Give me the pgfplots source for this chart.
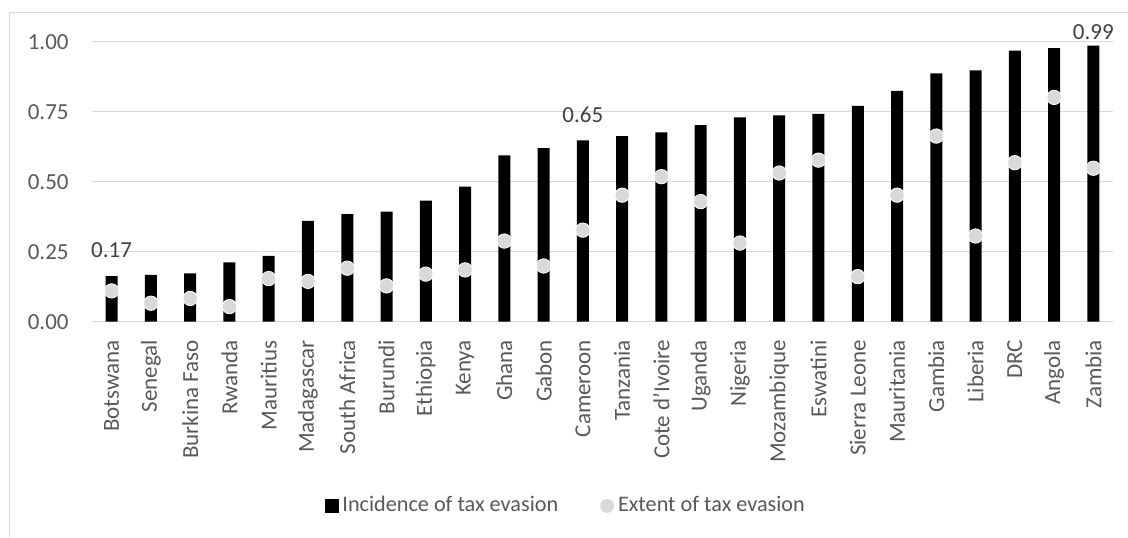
\documentclass[border=0pt]{standalone}
\usepackage{pgfplots}
\pgfplotsset{compat=1.18}
\usepackage{fontspec}
\setmainfont{Carlito}
\definecolor{gridgray}{HTML}{D9D9D9}
\definecolor{textgray}{HTML}{595959}
\definecolor{labgray}{HTML}{404040}
\definecolor{dotgray}{HTML}{D9D9D9}
\begin{document}
\fontsize{11.1pt}{13pt}\selectfont
\begin{tikzpicture}
\useasboundingbox (0,0) rectangle (564pt,268.5pt);
\draw[gridgray, line width=0.6pt] (4.75pt,0) -- (4.75pt,262.35pt) -- (570pt,262.35pt);
\begin{axis}[
  at={(46pt,107.65pt)}, anchor=south west,
  scale only axis, width=510.5pt, height=140pt,
  xmin=-0.5, xmax=25.5, ymin=0, ymax=1,
  clip=false,
  axis line style={draw=none},
  major tick length=0pt,
  ytick={0,0.25,0.5,0.75,1},
  ymajorgrids, grid style={gridgray, line width=0.65pt},
  tick label style={font=\fontsize{11.5pt}{13pt}\selectfont},
  yticklabel style={/pgf/number format/.cd, fixed, fixed zerofill, precision=2, assume math mode=true, /tikz/.cd, text=textgray, inner sep=0pt, xshift=-11.5pt},
  xtick={0,...,25},
  xticklabels={Botswana,Senegal,Burkina Faso,Rwanda,Mauritius,Madagascar,South Africa,Burundi,Ethiopia,Kenya,Ghana,Gabon,Cameroon,Tanzania,Cote d’Ivoire,Uganda,Nigeria,Mozambique,Eswatini,Sierra Leone,Mauritania,Gambia,Liberia,DRC,Angola,Zambia},
  xticklabel style={rotate=90, anchor=east, text=textgray, inner sep=0pt},
  xticklabel shift=9pt,
  legend columns=2,
  legend style={at={(0.465,-0.658)}, anchor=center, draw=none, fill=none, text=textgray,
    font=\fontsize{11.1pt}{13pt}\selectfont,
    /tikz/every even column/.append style={column sep=19pt}},
]
\addplot[ybar, bar width=6pt, fill=black, draw=none, forget plot] coordinates {
(0,0.163) (1,0.167) (2,0.173) (3,0.212) (4,0.235) (5,0.360) (6,0.384) (7,0.393)
(8,0.432) (9,0.482) (10,0.594) (11,0.620) (12,0.648) (13,0.663) (14,0.676) (15,0.702)
(16,0.730) (17,0.737) (18,0.742) (19,0.771) (20,0.824) (21,0.887) (22,0.898)
(23,0.968) (24,0.977) (25,0.986)};
\addplot[only marks, mark=*, mark size=3.6pt, mark options={fill=dotgray, draw=white, line width=0.4pt}, forget plot] coordinates {
(0,0.110) (1,0.066) (2,0.083) (3,0.054) (4,0.154) (5,0.144) (6,0.191) (7,0.128)
(8,0.170) (9,0.185) (10,0.288) (11,0.199) (12,0.327) (13,0.452) (14,0.518) (15,0.429)
(16,0.281) (17,0.531) (18,0.577) (19,0.161) (20,0.452) (21,0.663) (22,0.306)
(23,0.568) (24,0.801) (25,0.548)};
\addlegendimage{legend image code/.code={\fill[black] (0pt,-3.25pt) rectangle (6.5pt,3.25pt);}}
\addlegendentry{Incidence of tax evasion}
\addlegendimage{legend image code/.code={\fill[dotgray] (3.25pt,0pt) circle (3.25pt);}}
\addlegendentry{Extent of tax evasion}
\node[text=labgray, font=\fontsize{11.5pt}{13pt}\selectfont] at (axis cs:0,0.256) {0.17};
\node[text=labgray, font=\fontsize{11.5pt}{13pt}\selectfont] at (axis cs:12,0.738) {0.65};
\node[text=labgray, font=\fontsize{11.5pt}{13pt}\selectfont] at (axis cs:25,1.035) {0.99};
\end{axis}
\end{tikzpicture}
\end{document}
